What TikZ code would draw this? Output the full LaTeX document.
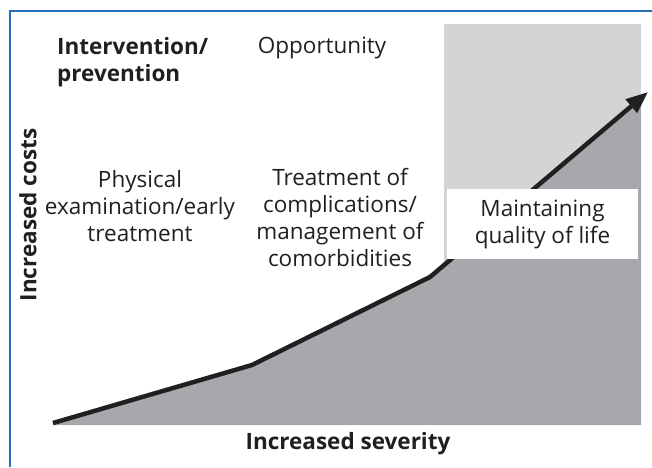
\documentclass[tikz,border=0pt]{standalone}
\usepackage{fontspec}
\setmainfont{Open Sans}
\usetikzlibrary{arrows.meta}
\definecolor{lightg}{HTML}{D3D4D6}
\definecolor{darkg}{HTML}{A7A8AB}
\definecolor{inkblack}{HTML}{231F20}
\definecolor{frameblue}{HTML}{2A6EBB}
\tikzset{
  txt/.style={text=inkblack, align=center, inner sep=0pt, font=\fontsize{22.5}{27}\selectfont},
  boldtxt/.style={txt, font=\fontsize{22.5}{27}\selectfont\bfseries},
  costline/.style={draw=inkblack, line width=4.5pt, line join=miter, line cap=butt,
    -{Triangle[length=22pt,width=17pt]}},
  framing/.style={draw=frameblue, line width=1.5pt}
}
\begin{document}
\begin{tikzpicture}[x=1pt,y=-1pt]
\useasboundingbox (0,0) rectangle (652,467);
% frame
\coordinate (fa) at (10,467);
\coordinate (fb) at (10,11);
\coordinate (fc) at (652,11);
\draw[framing] (fa) -- (fb) -- (fc);
% regions
\fill[lightg] (444,24) rectangle (641,425);
\coordinate (p0) at (53,423);
\coordinate (p1) at (252,365);
\coordinate (p2) at (430,277);
\coordinate (p3) at (648,92);
\fill[darkg] (53,425) -- (p0) -- (p1) -- (p2) -- (641,98) -- (641,425) -- cycle;
\draw[costline] (p0) -- (p1) -- (p2) -- (p3);
% white box
\node[fill=white, minimum width=191pt, minimum height=70pt, inner sep=0pt, txt] (qol) at (542.5,224) {Maintaining\\quality of life};
% texts
\node[boldtxt, align=left, anchor=north west] (iv) at (57,37) {Intervention/\\prevention};
\node[txt, anchor=north] (opp) at (322,37) {Opportunity};
\node[txt, anchor=north] (phys) at (140,170) {Physical\\examination/early\\treatment};
\node[txt, anchor=north] (treat) at (340,168) {Treatment of\\complications/\\management of\\comorbidities};
\node[boldtxt, rotate=90] (ycost) at (28,215) {Increased costs};
\node[boldtxt] (xsev) at (348,444) {Increased severity};
\end{tikzpicture}
\end{document}
